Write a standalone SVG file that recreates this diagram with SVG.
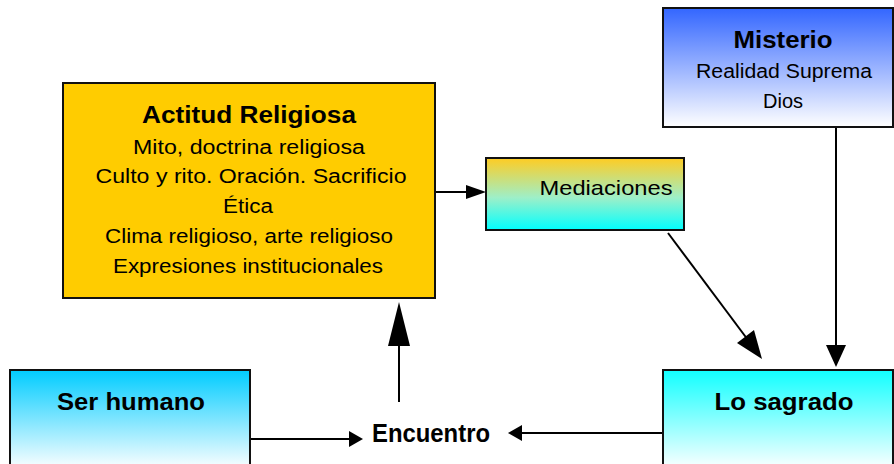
<svg xmlns="http://www.w3.org/2000/svg" width="894" height="464" viewBox="0 0 894 464">
<style>
.box{stroke:#111;stroke-width:2}
.t{font-family:"Liberation Sans",Arial,sans-serif;fill:#000;text-anchor:middle}
.b{font-weight:bold}
.ln{stroke:#000;stroke-width:2;fill:none}
.ah{fill:#000}
</style>
<defs>
<linearGradient id="gMed" x1="0" y1="0" x2="0" y2="1"><stop offset="0" stop-color="#FFCC22"/><stop offset="0.55" stop-color="#9EEFC8"/><stop offset="1" stop-color="#00FFFF"/></linearGradient>
<linearGradient id="gMis" x1="0" y1="0" x2="0" y2="1"><stop offset="0" stop-color="#3366FF"/><stop offset="1" stop-color="#FFFFFF"/></linearGradient>
<linearGradient id="gSer" x1="0" y1="0" x2="0" y2="1"><stop offset="0" stop-color="#00CCFF"/><stop offset="1" stop-color="#FFFFFF"/></linearGradient>
<linearGradient id="gSag" x1="0" y1="0" x2="0" y2="1"><stop offset="0" stop-color="#11FFFF"/><stop offset="1" stop-color="#FFFFFF"/></linearGradient>
</defs>
<rect width="894" height="464" fill="#fff"/>
<g id="connectors">
<line class="ln" x1="436" y1="192" x2="468" y2="192"/>
<polygon class="ah" points="486,192 466,185 466,199"/>
<line class="ln" x1="668" y1="233" x2="748" y2="340"/>
<polygon class="ah" points="762,359 737,343 754,330"/>
<line class="ln" x1="836" y1="127" x2="836" y2="348"/>
<polygon class="ah" points="836,367 826,345 846,345"/>
<line class="ln" x1="399" y1="402" x2="399" y2="340"/>
<polygon class="ah" points="399,302 388,346 410,346"/>
<line class="ln" x1="250" y1="439" x2="350" y2="439"/>
<polygon class="ah" points="363,439 349,431 349,447"/>
<line class="ln" x1="663" y1="433" x2="520" y2="433"/>
<polygon class="ah" points="508,433 522,425 522,441"/>
</g>
<g id="actitud">
<rect class="box" x="63" y="83" width="372" height="215" fill="#FFCC00"/>
<text class="t b" x="249" y="123" font-size="23" textLength="214" lengthAdjust="spacingAndGlyphs">Actitud Religiosa</text>
<text class="t" x="249" y="154" font-size="20" textLength="232" lengthAdjust="spacingAndGlyphs">Mito, doctrina religiosa</text>
<text class="t" x="251" y="183" font-size="20" textLength="311" lengthAdjust="spacingAndGlyphs">Culto y rito. Oración. Sacrificio</text>
<text class="t" x="248" y="213" font-size="20" textLength="50" lengthAdjust="spacingAndGlyphs">Ética</text>
<text class="t" x="249" y="243" font-size="20" textLength="288" lengthAdjust="spacingAndGlyphs">Clima religioso, arte religioso</text>
<text class="t" x="248" y="273" font-size="20" textLength="270" lengthAdjust="spacingAndGlyphs">Expresiones institucionales</text>
</g>
<g id="mediaciones">
<rect class="box" x="486" y="158" width="198" height="72" fill="url(#gMed)"/>
<text class="t" x="606" y="195" font-size="21" textLength="133" lengthAdjust="spacingAndGlyphs">Mediaciones</text>
</g>
<g id="misterio">
<rect class="box" x="663" y="8" width="230" height="119" fill="url(#gMis)"/>
<text class="t b" x="783" y="48" font-size="23" textLength="99" lengthAdjust="spacingAndGlyphs">Misterio</text>
<text class="t" x="784" y="78" font-size="20" textLength="176" lengthAdjust="spacingAndGlyphs">Realidad Suprema</text>
<text class="t" x="783" y="108" font-size="20" textLength="40" lengthAdjust="spacingAndGlyphs">Dios</text>
</g>
<g id="ser-humano">
<rect class="box" x="10" y="370" width="240" height="100" fill="url(#gSer)"/>
<text class="t b" x="131" y="410" font-size="23" textLength="148" lengthAdjust="spacingAndGlyphs">Ser humano</text>
</g>
<g id="lo-sagrado">
<rect class="box" x="663" y="370" width="230" height="100" fill="url(#gSag)"/>
<text class="t b" x="784" y="410" font-size="23" textLength="139" lengthAdjust="spacingAndGlyphs">Lo sagrado</text>
</g>
<g id="encuentro">
<text class="t b" x="431" y="442" font-size="26" textLength="118" lengthAdjust="spacingAndGlyphs">Encuentro</text>
</g>
</svg>
